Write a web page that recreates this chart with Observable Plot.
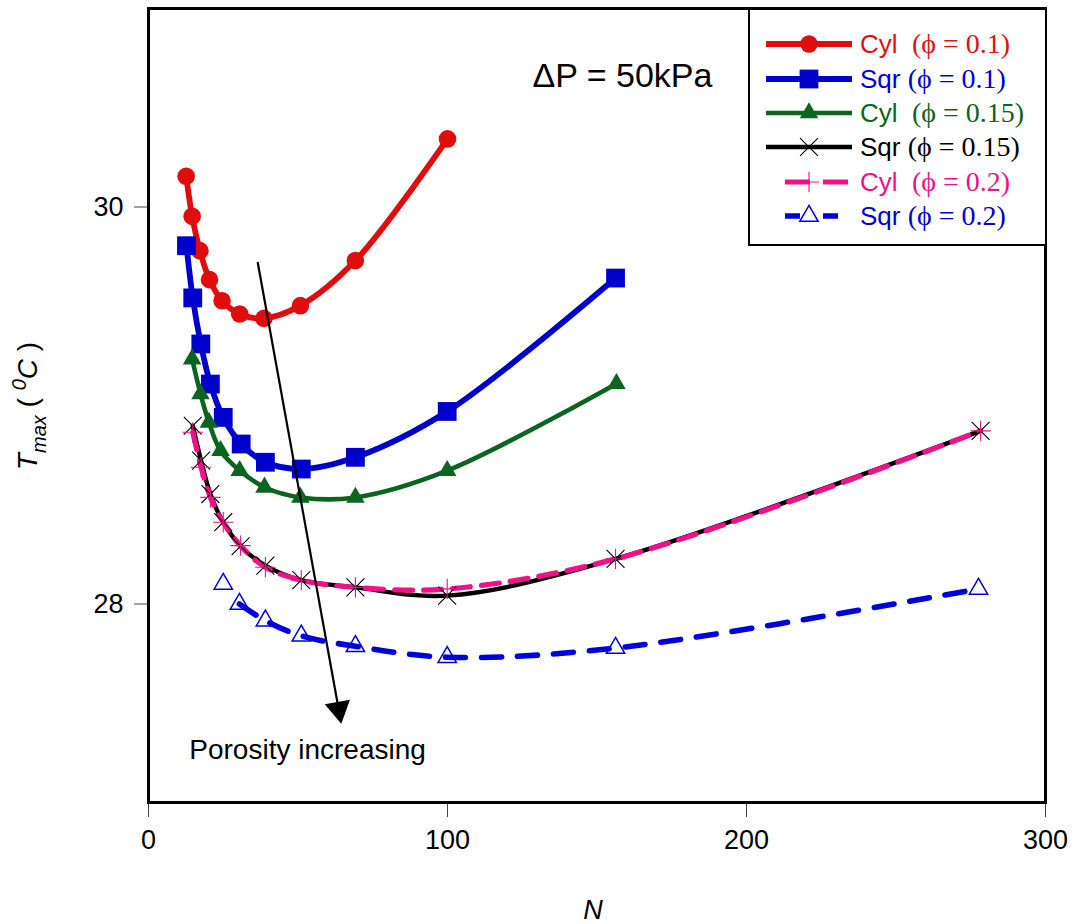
<!DOCTYPE html>
<html><head><meta charset="utf-8">
<script src="https://cdn.jsdelivr.net/npm/d3@7"></script>
<script src="https://cdn.jsdelivr.net/npm/@observablehq/plot@0.6"></script>
<style>
body{margin:0;background:#fff;}
#wrap{position:relative;width:1075px;height:924px;background:#fff;}
#legend{position:absolute;left:748px;top:8px;width:299px;height:238px;border:2.5px solid #000;box-sizing:border-box;background:#fff;}
.row{position:absolute;left:0;height:34px;width:100%;}
.row svg{position:absolute;left:14px;top:0;}
.row .lab{position:absolute;left:110px;top:0;line-height:34px;white-space:pre;}
.sans{font-family:"Liberation Sans",Arial,sans-serif;font-size:26px;}
.serif{font-family:"Liberation Serif","Times New Roman",serif;font-size:28px;}
</style></head><body><div id="wrap"></div>
<script>
// ---- data ----
const nCyl01 = [12.6, 14.6, 17.2, 20.4, 24.6, 30.5, 38.6, 50.8, 69.2, 100];
const tCyl01 = [30.155, 29.953, 29.78, 29.634, 29.528, 29.461, 29.439, 29.503, 29.73, 30.343];
const nSqr01 = [12.7, 14.8, 17.5, 20.7, 25.0, 31.0, 39.1, 51.1, 69.2, 99.9, 156.2];
const tSqr01 = [29.805, 29.542, 29.31, 29.108, 28.94, 28.806, 28.714, 28.68, 28.739, 28.97, 29.642];
const nCyl015 = [14.6, 17.4, 20.2, 24.1, 30.5, 38.8, 50.8, 69.2, 99.9, 156.5];
const tCyl015 = [29.234, 29.058, 28.915, 28.772, 28.672, 28.588, 28.537, 28.537, 28.672, 29.11];
const nSqr015 = [14.8, 17.6, 20.7, 25.0, 30.8, 39.1, 51.1, 69.2, 99.9, 156.2, 278.3];
const tSqr015 = [28.898, 28.722, 28.554, 28.412, 28.291, 28.193, 28.12, 28.084, 28.042, 28.227, 28.872];
const nCyl02 = [14.8, 17.6, 20.7, 25.0, 30.8, 39.1, 51.1, 69.2, 99.9, 156.2, 278.3];
const tCyl02 = [28.865, 28.689, 28.537, 28.412, 28.294, 28.185, 28.12, 28.084, 28.076, 28.227, 28.872];
const nSqr02 = [25.0, 30.4, 39.1, 51.1, 69.2, 99.9, 156.2, 277.6];
const tSqr02 = [28.101, 28.0, 27.916, 27.84, 27.787, 27.732, 27.778, 28.076];

const xTicks = [0, 100, 200, 300];
const yTicks = [28, 30];
const arrowFrom = {N: 36.5, T: 29.723};
const arrowTo = {N: 63.6, T: 27.47};
const annotations = [
  {N: 158.5, T: 30.66, text: "ΔP = 50kPa", size: 34},
  {N: 53.2, T: 27.265, text: "Porosity increasing", size: 28}
];

const series = [
  {geo: "Cyl", phi: "0.1",  gap: "  ", N: nCyl01,  T: tCyl01,  color: "#e00d0d", text: "#e01010", symbol: "circle",   r: 8.8, fill: true,  width: 5.8, dash: null, legendDash: null},
  {geo: "Sqr", phi: "0.1",  gap: " ",  N: nSqr01,  T: tSqr01,  color: "#0000cc", text: "#0000d0", symbol: "square",   r: 10.6, fill: true, width: 5.8, dash: null, legendDash: null},
  {geo: "Cyl", phi: "0.15", gap: "  ", N: nCyl015, T: tCyl015, color: "#0b6420", text: "#0b6420", symbol: "triangle", r: 6.9, fill: true,  width: 4.6, dash: null, legendDash: null},
  {geo: "Sqr", phi: "0.15", gap: " ",  N: nSqr015, T: tSqr015, color: "#000000", text: "#000000", symbol: "times",    r: 8.2, fill: false, width: 4.4, dash: null, legendDash: null},
  {geo: "Cyl", phi: "0.2",  gap: "  ", N: nCyl02,  T: tCyl02,  color: "#ee1188", text: "#ee1188", symbol: "plus",     r: 6.6, fill: false, width: 5.2, dash: "18,11", legendDash: "25,13"},
  {geo: "Sqr", phi: "0.2",  gap: " ",  N: nSqr02,  T: tSqr02,  color: "#0000dd", text: "#0000d0", symbol: "triangle", r: 6.8, fill: false, width: 5.6, dash: "20,16", legendDash: "15,23", skipFirst: true}
];

const toRows = s => s.N.map((n, i) => ({N: n, T: s.T[i]}));

const marks = [];
for (const s of series) {
  const rows = toRows(s);
  const lineRows = s.skipFirst ? rows.slice(1) : rows;
  marks.push(Plot.line(lineRows, {x: "N", y: "T", curve: "catmull-rom", stroke: s.color, strokeWidth: s.width, strokeDasharray: s.dash}));
}
for (const s of series) {
  const rows = toRows(s);
  marks.push(Plot.dot(rows, {x: "N", y: "T", symbol: s.symbol, r: s.r,
    fill: s.fill ? s.color : "none", stroke: s.fill ? "none" : s.color, strokeWidth: s.fill ? 0 : (s.symbol === "triangle" ? 1.5 : 1.1)}));
}
marks.push(Plot.link([{x1: arrowFrom.N, y1: arrowFrom.T, x2: arrowTo.N, y2: arrowTo.T}], {x1: "x1", y1: "y1", x2: "x2", y2: "y2", stroke: "black", strokeWidth: 2.2}));
marks.push(Plot.dot([arrowTo], {x: "N", y: "T", symbol: "triangle", r: 9.5, fill: "black", rotate: 169.8}));
for (const a of annotations) {
  marks.push(Plot.text([a], {x: "N", y: "T", text: "text", fontSize: a.size, fill: "black"}));
}
marks.push(Plot.axisX({ticks: xTicks, tickFormat: d => String(d), tickSize: 15, tickPadding: 12, stroke: "#444", strokeWidth: 1, fontSize: 27, label: null}));
marks.push(Plot.axisY({ticks: yTicks, tickFormat: d => String(d), tickSize: 14, tickPadding: 11, stroke: "#444", strokeWidth: 1, fontSize: 27, label: null}));
marks.push(Plot.frame({stroke: "black", strokeWidth: 3}));

const plot = Plot.plot({
  width: 1075, height: 924,
  marginLeft: 148, marginRight: 30, marginTop: 8, marginBottom: 122,
  x: {domain: [0, 300]},
  y: {domain: [27, 31]},
  style: {fontFamily: "'Liberation Sans', Arial, sans-serif", fontSize: "27px", color: "black", background: "white"},
  marks
});

// axis titles
const svg = d3.select(plot);
svg.append("text").attr("x", 593).attr("y", 919).attr("text-anchor", "middle")
  .attr("font-size", 27).attr("font-style", "italic").attr("fill", "black").text("N");
const yl = svg.append("text").attr("transform", "translate(37,406) rotate(-90)").attr("text-anchor", "middle")
  .attr("font-size", 28).attr("fill", "black");
yl.append("tspan").attr("font-style", "italic").text("T");
yl.append("tspan").attr("font-style", "italic").attr("font-size", 20).attr("dy", 9).text("max");
yl.append("tspan").attr("dy", -9).text(" ( ");
yl.append("tspan").attr("font-style", "italic").attr("font-size", 20).attr("dy", -11).text("0");
yl.append("tspan").attr("font-style", "italic").attr("dy", 11).text("C");
yl.append("tspan").text(" )");

const wrap = document.getElementById("wrap");
wrap.appendChild(plot);

// legend
const legend = document.createElement("div");
legend.id = "legend";
wrap.appendChild(legend);
const rowCenters = [44, 79, 113, 147, 182, 216];
const symPath = (name, r) => {
  const S = {circle: d3.symbolCircle, square: d3.symbolSquare, triangle: d3.symbolTriangle, times: d3.symbolTimes, plus: d3.symbolPlus};
  return d3.symbol(S[name], Math.PI * r * r)();
};
series.forEach((s, i) => {
  const row = document.createElement("div");
  row.className = "row";
  row.style.top = (rowCenters[i] - 10.5 - 17) + "px";
  const ns = "http://www.w3.org/2000/svg";
  const sv = document.createElementNS(ns, "svg");
  sv.setAttribute("width", 94); sv.setAttribute("height", 34);
  const g = d3.select(sv);
  if (s.legendDash) {
    g.append("line").attr("x1", 21).attr("x2", 86).attr("y1", 17).attr("y2", 17)
      .attr("stroke", s.color).attr("stroke-width", s.width).attr("stroke-dasharray", s.legendDash);
  } else {
    g.append("line").attr("x1", 2).attr("x2", 88).attr("y1", 17).attr("y2", 17)
      .attr("stroke", s.color).attr("stroke-width", s.width);
  }
  g.append("path").attr("transform", "translate(45,17)").attr("d", symPath(s.symbol, s.r))
    .attr("fill", s.fill ? s.color : (s.symbol === "triangle" ? "white" : "none"))
    .attr("stroke", s.fill ? "none" : s.color).attr("stroke-width", s.symbol === "triangle" ? 1.5 : 1.1);
  row.appendChild(sv);
  const lab = document.createElement("div");
  lab.className = "lab";
  lab.style.color = s.text;
  lab.innerHTML = `<span class="sans">${s.geo}${s.gap}</span><span class="serif">(ϕ = ${s.phi})</span>`;
  row.appendChild(lab);
  legend.appendChild(row);
});
</script></body></html>
